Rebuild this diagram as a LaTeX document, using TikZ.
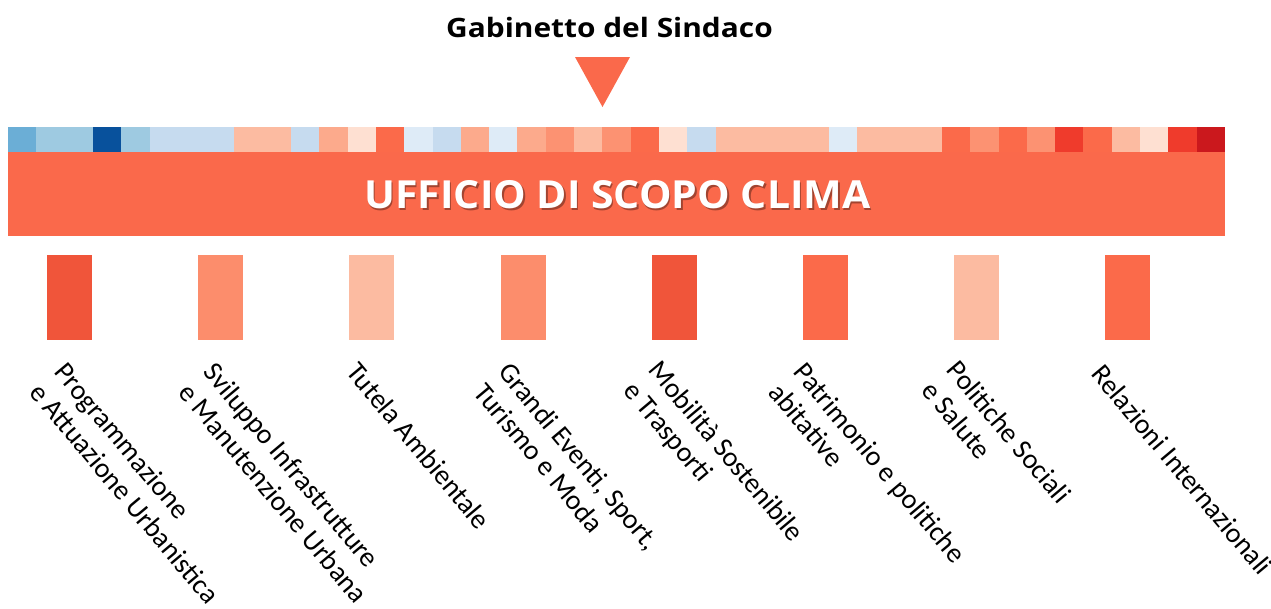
\documentclass[tikz,border=0pt]{standalone}
\usepackage{fontspec}
\setmainfont{Carlito}
\newfontfamily\opensans{Open Sans}
\usetikzlibrary{positioning, shapes, calc}
\definecolor{bl0}{HTML}{DEEBF7}
\definecolor{bl1}{HTML}{C6DBEF}
\definecolor{bl2}{HTML}{9ECAE1}
\definecolor{bl3}{HTML}{6BAED6}
\definecolor{bl5}{HTML}{08519C}
\definecolor{rd0}{HTML}{FEE0D2}
\definecolor{rd1}{HTML}{FCBBA1}
\definecolor{rd2}{HTML}{FCAA8C}
\definecolor{rd3}{HTML}{FC9272}
\definecolor{rd4}{HTML}{FB6A4A}
\definecolor{rd5}{HTML}{EF3B2C}
\definecolor{rd6}{HTML}{CB181D}
\definecolor{clima}{HTML}{FA694B}
\definecolor{unitA}{HTML}{F0553A}
\definecolor{unitB}{HTML}{FC8D6C}
\tikzset{title/.style={font=\opensans\bfseries\fontsize{20}{23}\selectfont, inner sep=0pt},
  bartext/.style={font=\opensans\bfseries\fontsize{29}{32}\selectfont, inner sep=0pt},
  unit/.style={minimum width=33.75pt, minimum height=63.75pt, inner sep=0pt},
  lbl/.style={rotate=-50, anchor=north west, align=left, inner sep=0pt,
    font=\fontsize{21}{24}\selectfont}}

\begin{document}
\begin{tikzpicture}[x=0.75pt, y=-0.75pt]
		\useasboundingbox (0,0) rectangle (1271,608);
		% Draw header
		\node[title] (gabinetto) at (609.5,27) {\scalebox{1.12}[1]{Gabinetto del Sindaco}};
		\fill[clima] (575,57) -- (630,57) -- (602.5,107) -- cycle;
		% Draw strip
		\foreach \c [count=\i] in {bl3,bl2,bl2,bl5,bl2,bl1,bl1,bl1,rd1,rd1,bl1,rd2,rd0,rd4,bl0,bl1,rd2,bl0,rd2,rd3,rd1,rd3,rd4,rd0,bl1,rd1,rd1,rd1,rd1,bl0,rd1,rd1,rd1,rd4,rd3,rd4,rd3,rd5,rd4,rd1,rd0,rd5,rd6}
			\fill[\c] ({8+(\i-1)*28.302},126.5) rectangle ++(28.302,25.5);
		\node[fill=clima, minimum width=912.75pt, minimum height=63pt, inner sep=0pt] (ufficio) at (616.5,194) {};
		\node[bartext, text=black, opacity=0.35] (ombra) at ([shift={(1.2pt,-1.2pt)}]617.5,195) {\scalebox{1.06}[1]{UFFICIO DI SCOPO CLIMA}};
		\node[bartext, text=white] (scopo) at (617.5,195) {\scalebox{1.06}[1]{UFFICIO DI SCOPO CLIMA}};
		% Draw units
		\foreach \c [count=\i] in {unitA,unitB,rd1,unitB,unitA,rd4,rd1,rd4}
			\node[unit, fill=\c] (u\i) at ({69.5+(\i-1)*151.2},297.5) {};
		% Labels
		\node[lbl] (l1) at (68,360) {Programmazione\\e Attuazione Urbanistica};
		\node[lbl] (l2) at (217,360) {Sviluppo Infrastrutture\\e Manutenzione Urbana};
		\node[lbl] (l3) at (360,360) {Tutela Ambientale};
		\node[lbl] (l4) at (512,360) {Grandi Eventi, Sport,\\Turismo e Moda};
		\node[lbl] (l5) at (662,358) {Mobilità Sostenibile\\e Trasporti};
		\node[lbl] (l6) at (807,360) {Patrimonio e politiche\\abitative};
		\node[lbl] (l7) at (960,358) {Politiche Sociali\\e Salute};
		\node[lbl] (l8) at (1105,362) {Relazioni Internazionali};
	\end{tikzpicture}
\end{document}
